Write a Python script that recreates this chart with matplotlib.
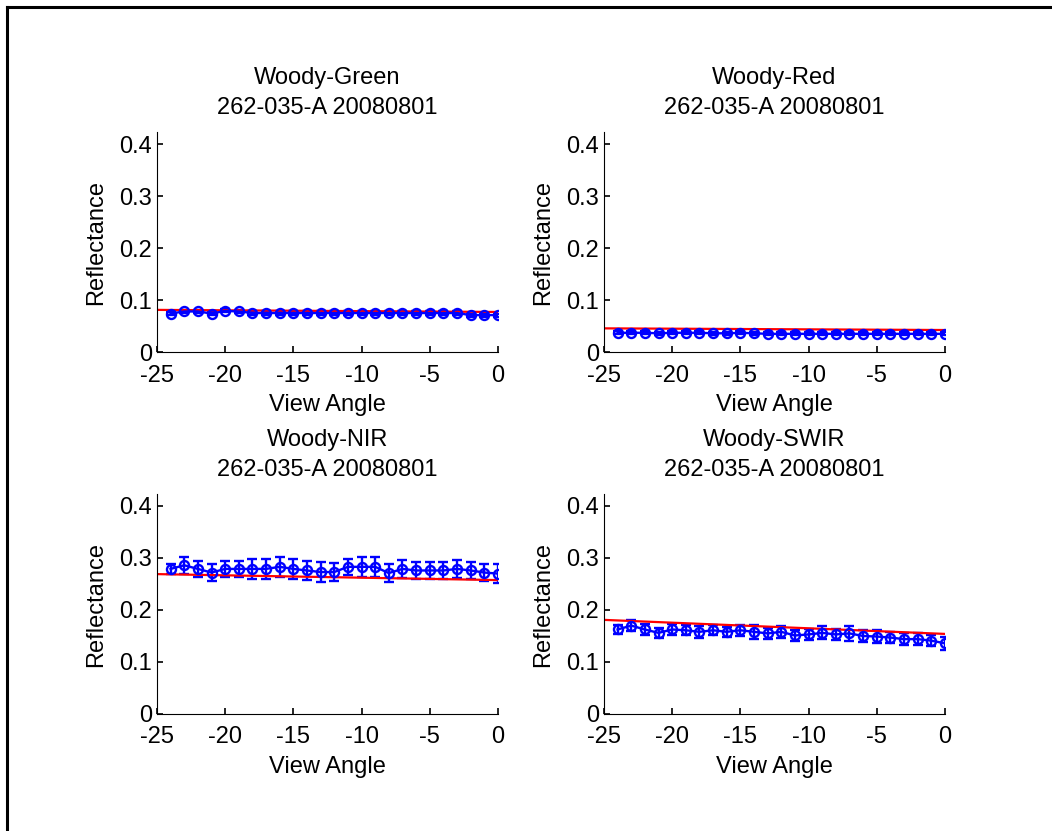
import matplotlib
matplotlib.use("Agg")
import matplotlib.pyplot as plt
from matplotlib.lines import Line2D

plt.rcParams['font.family'] = ['Liberation Sans', 'DejaVu Sans']
plt.rcParams['axes.unicode_minus'] = False

# view angles of the samples
angles = list(range(-24, 1))

# model line, value at -25 and at 0
model_x = [-25, 0]

green = [0.074, 0.078, 0.078, 0.074, 0.079, 0.078, 0.075, 0.075, 0.075, 0.075,
         0.075, 0.075, 0.075, 0.075, 0.075, 0.075, 0.075, 0.075, 0.075, 0.075,
         0.075, 0.075, 0.071, 0.071, 0.071]
green_err = [0.003] * 25
green_model = [0.081, 0.077]

red = [0.037, 0.037, 0.037, 0.036, 0.037, 0.037, 0.037, 0.036, 0.036, 0.037,
       0.036, 0.035, 0.035, 0.035, 0.035, 0.035, 0.035, 0.035, 0.035, 0.035,
       0.035, 0.035, 0.035, 0.035, 0.035]
red_err = [0.003] * 25
red_model = [0.0455, 0.0423]

nir = [0.279, 0.286, 0.279, 0.272, 0.279, 0.279, 0.279, 0.279, 0.283, 0.279,
       0.276, 0.273, 0.273, 0.283, 0.283, 0.283, 0.271, 0.279, 0.276, 0.276,
       0.276, 0.279, 0.276, 0.272, 0.270]
nir_err = [0.010, 0.016, 0.016, 0.017, 0.016, 0.016, 0.020, 0.020, 0.019, 0.019,
           0.019, 0.019, 0.017, 0.016, 0.019, 0.019, 0.017, 0.017, 0.017, 0.017,
           0.016, 0.017, 0.016, 0.017, 0.018]
nir_model = [0.269, 0.2575]

swir = [0.1625, 0.170, 0.1625, 0.156, 0.1625, 0.161, 0.158, 0.161, 0.158, 0.161,
        0.158, 0.155, 0.158, 0.151, 0.153, 0.156, 0.153, 0.155, 0.150, 0.149,
        0.147, 0.144, 0.144, 0.141, 0.136]
swir_err = [0.0095, 0.011, 0.010, 0.009, 0.010, 0.010, 0.011, 0.010, 0.010, 0.011,
            0.013, 0.011, 0.011, 0.011, 0.011, 0.0125, 0.011, 0.014, 0.011, 0.013,
            0.011, 0.012, 0.011, 0.011, 0.012]
swir_model = [0.181, 0.154]

titles = ["Woody-Green", "Woody-Red", "Woody-NIR", "Woody-SWIR"]
site = "262-035-A 20080801"

series = [(green, green_err, green_model),
          (red, red_err, red_model),
          (nir, nir_err, nir_model),
          (swir, swir_err, swir_model)]

# axes boxes [left, bottom, width, height] in figure fractions
boxes = [[0.1492, 0.5764, 0.3241, 0.2647],
         [0.5741, 0.5764, 0.3241, 0.2647],
         [0.1492, 0.1408, 0.3241, 0.2647],
         [0.5741, 0.1408, 0.3241, 0.2647]]

fs = 17

fig = plt.figure(figsize=(10.52, 8.31), dpi=100)

for i in range(4):
    vals, err, model = series[i]
    ax = fig.add_axes(boxes[i])
    ax.errorbar(angles, vals, yerr=err, color='blue', marker='o', markersize=6.5,
                markerfacecolor='none', markeredgewidth=1.7, linewidth=1.7,
                elinewidth=1.7, capsize=3.5, capthick=1.7)
    ax.plot(model_x, model, color='red', linewidth=1.6)
    ax.set_xlim(-25, 0)
    ax.set_ylim(0, 0.423)
    ax.set_xticks([-25, -20, -15, -10, -5, 0])
    ax.set_yticks([0, 0.1, 0.2, 0.3, 0.4])
    ax.set_yticklabels(["0", "0.1", "0.2", "0.3", "0.4"])
    ax.spines['top'].set_visible(False)
    ax.spines['right'].set_visible(False)
    ax.tick_params(direction='in', length=4, width=1.2, labelsize=fs)
    ax.tick_params(axis='y', pad=3.5)
    ax.tick_params(axis='x', pad=9)
    ax.set_title(titles[i] + "\n" + site, fontsize=fs, pad=13, linespacing=1.45)
    ax.set_xlabel("View Angle", fontsize=fs)
    ax.set_ylabel("Reflectance", fontsize=fs)
    ax.yaxis.set_label_coords(-0.147, 0.5)
    ax.xaxis.set_label_coords(0.5, -0.19)

# frame round the figure
fig.add_artist(Line2D([6.5 / 1052, 6.5 / 1052], [0, 1 - 6.5 / 831],
                      transform=fig.transFigure, color='black', linewidth=2.2))
fig.add_artist(Line2D([6.5 / 1052, 1], [1 - 6.5 / 831, 1 - 6.5 / 831],
                      transform=fig.transFigure, color='black', linewidth=2.2))

fig.savefig("out.png", dpi=100)
